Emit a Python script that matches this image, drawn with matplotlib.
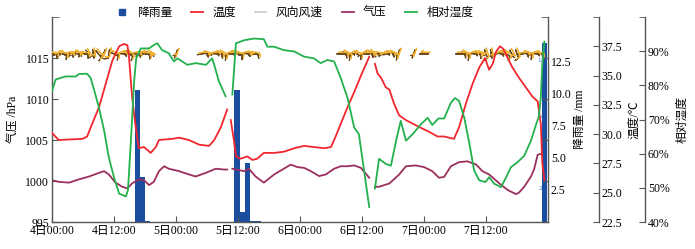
import numpy as np
import matplotlib.pyplot as plt
from matplotlib.lines import Line2D
from matplotlib.ticker import FuncFormatter

plt.rcParams['font.family'] = ['Liberation Serif', 'Noto Sans CJK SC']
plt.rcParams['axes.unicode_minus'] = False

nan = np.nan

# all times are hours after 4日00:00
tick_hours = [0, 12, 24, 36, 48, 60, 72, 84]
tick_labels = ['4日00:00', '4日12:00', '5日00:00', '5日12:00',
               '6日00:00', '6日12:00', '7日00:00', '7日12:00']

# rain (mm), bars start at these hours
rain_hours = [16, 17, 18, 35.3, 36.3, 37.3, 38.4, 39.4, 94.9]
rain_mm = [10.3, 3.5, 0.1, 10.3, 0.8, 4.6, 0.05, 0.05, 14.0]

# temperature (C)
temp_hours = [0, 1.3, 5.9, 6.8, 7.8, 9.1, 10.4, 11.7, 13.0, 13.9, 14.6, 14.9, 15.5, 16.2,
              16.8, 17.8, 19.1, 20.1, 20.7, 23.3, 24.6, 26.5, 28.5, 30.4, 31.4, 32.7, 33.9, 34.2,
              34.6, 35.2, 35.6, 36.5, 37.8, 38.8, 39.7, 41.0, 43.0, 44.9, 46.9, 48.8, 50.7, 52.7,
              54.0, 54.9, 55.9, 57.2, 58.5, 59.8, 61.1, 61.4, 62.0,
              62.5, 63.0, 63.7, 64.6, 65.3, 66.2, 67.2, 68.5, 69.8, 71.1, 73.0, 74.6, 75.9, 77.8,
              78.8, 80.1, 81.4, 82.7, 83.8, 84.6, 85.3, 85.9, 86.7, 87.3, 88.2, 89.1, 90.4, 91.7,
              93.0, 94.0, 94.6, 94.9, 95.3]
temp_c = [30.1, 29.5, 29.6, 29.8, 30.9, 32.3, 34.3, 36.3, 37.5, 37.7, 37.6, 36.6, 33.2, 30.6,
          28.8, 28.9, 28.4, 28.9, 29.5, 29.6, 29.7, 29.5, 29.1, 29.0, 29.5, 30.6, 32.1, nan,
          31.2, 29.5, 28.1, 27.9, 28.1, 27.8, 27.9, 28.4, 28.4, 28.5, 28.8, 29.0, 28.9, 28.8,
          28.9, 29.8, 30.9, 32.3, 33.6, 35.0, 36.3, 36.6, nan,
          36.0, 35.2, 34.8, 34.0, 33.8, 32.6, 31.6, 31.2, 30.9, 30.6, 30.2, 29.8, 29.8, 29.6,
          30.6, 32.6, 34.3, 35.7, 36.5, 35.5, 36.0, 37.0, 37.5, 37.3, 36.5, 35.7, 34.8, 34.0,
          33.2, 32.8, 30.9, 27.5, 26.1]

# pressure (hPa)
pres_hours = [0, 1.3, 3.3, 5.2, 7.2, 9.1, 10.1, 11.0, 12.3, 13.6, 14.6, 15.5, 16.8, 17.8,
              18.8, 19.7, 20.7, 21.7, 22.6, 24.6, 26.5, 27.8, 29.8, 31.7, 33.3, 33.9, 34.2,
              34.9, 37.2, 38.1, 39.4, 41.0, 43.0, 44.6, 46.2, 47.5, 48.8, 50.1, 51.7, 53.0,
              54.6, 55.9, 57.2, 58.5, 59.8, 61.4, 62.0,
              62.5, 63.3, 65.3, 67.2, 68.5, 70.4, 72.0, 73.6, 74.9, 75.9, 77.2, 78.8, 80.4,
              82.1, 83.3, 84.6, 86.6, 88.2, 89.8, 90.4, 91.4, 92.7, 93.3, 94.0, 94.6]
pres_hpa = [1000.1, 999.9, 999.8, 1000.2, 1000.55, 1001.0, 1001.2, 1000.8, 999.8, 999.3,
            999.1, 999.7, 1000.2, 1000.1, 999.5, 999.9, 1001.2, 1001.8, 1001.5, 1001.2,
            1000.8, 1000.55, 1001.0, 1001.5, 1001.4, 1001.4, nan,
            1001.5, 1001.2, 1001.5, 1000.55, 999.8, 1000.8, 1001.4, 1002.0, 1001.7, 1001.6,
            1001.2, 1000.6, 1000.8, 1001.5, 1001.8, 1001.8, 1001.9, 1001.6, 1000.4, nan,
            999.3, 999.3, 999.7, 1000.8, 1001.8, 1001.9, 1001.7, 1001.2, 1000.4, 1000.5,
            1001.8, 1002.3, 1002.4, 1002.0, 1001.2, 1000.8, 999.7, 998.9, 998.4, 998.6,
            999.3, 1000.55, 1001.4, 1003.2, 1003.3]

# relative humidity (%)
rh_hours = [0, 0.7, 2.6, 4.6, 5.2, 6.8, 7.5, 8.4, 9.1, 10.1, 11.0, 12.0, 13.0, 14.3, 14.7,
            15.2, 15.9, 16.3, 17.2, 18.8, 19.7, 20.4, 21.3, 22.6, 23.6, 24.3, 25.2, 26.2,
            27.8, 29.8, 31.0, 31.4, 32.3, 33.6, 34.2,
            34.9, 35.6, 37.2, 39.1, 41.0, 41.7, 43.0, 44.9, 46.9, 48.8, 50.7, 52.0, 53.3,
            54.6, 55.9, 57.2, 58.5, 59.4, 60.4, 61.4, 62.0,
            62.5, 63.3, 64.6, 65.6, 66.6, 67.5, 68.5, 69.8, 71.4, 72.7, 73.6, 74.8, 75.9,
            77.2, 78.0, 78.8, 79.8, 80.8, 81.7, 82.7, 83.9, 84.6, 85.6, 86.9, 87.9, 88.8,
            90.1, 91.4, 92.7, 93.7, 94.2, 94.6, 94.9, 95.3]
rh_pct = [78.3, 81.7, 82.6, 82.6, 83.3, 83.4, 82.1, 77.3, 73.4, 66.7, 58.9, 53.1, 48.3, 47.5,
          49.3, 61.8, 81.2, 87.9, 90.8, 90.8, 91.8, 92.3, 90.3, 89.4, 87.0, 87.9, 87.0, 86.0,
          86.5, 86.0, 87.9, 86.0, 81.2, 76.8, nan,
          77.3, 92.3, 93.2, 93.7, 93.5, 91.3, 91.3, 90.3, 89.9, 88.4, 87.9, 86.5, 87.4,
          87.0, 82.1, 76.3, 67.6, 65.7, 55.1, 44.4, nan,
          49.8, 58.5, 57.0, 56.5, 63.8, 69.6, 63.8, 65.7, 68.6, 70.5, 68.4, 70.3, 70.3,
          74.9, 76.3, 75.4, 70.5, 62.8, 55.1, 52.2, 51.7, 53.1, 51.2, 50.2, 53.1, 56.0,
          57.5, 59.4, 63.8, 68.6, 70.7, 76.3, 86.0, 92.8]

# wind: direction (deg) and speed (m/s), only hours with data
wind_hours = (list(range(0, 20)) + [24] + list(range(29, 40)) + list(range(56, 68))
              + [70, 72] + list(range(79, 95)))
wind_dir = [95, 70, 110, 85, 60, 120, 95, 150, 170, 140, 200, 190, 115, 70, 95, 130, 85, 60, 100, 120,
            200,
            80, 110, 70, 95, 120, 65, 85, 110, 75, 100, 95,
            90, 120, 70, 110, 60, 85, 130, 100, 65, 80, 115, 200,
            200, 270,
            90, 120, 70, 95, 110, 160, 170, 65, 100, 130, 150, 160, 80, 110, 70, 95]
wind_spd = [3, 2, 4, 4, 2, 3, 4, 2, 3, 4, 2, 3, 4, 3, 2, 4, 3, 2, 4, 3,
            2,
            4, 2, 3, 4, 4, 3, 2, 4, 3, 2, 4,
            3, 4, 2, 4, 3, 4, 2, 3, 4, 4, 3, 2,
            2, 2,
            3, 4, 4, 3, 2, 4, 3, 4, 3, 4, 2, 3, 4, 4, 3, 4]

c_rain = '#1c4ea0'
c_temp = '#f2262e'
c_pres = '#9b2f5e'
c_rh = '#22b14c'
c_wind = '#c9d0d6'
c_axis = '#555555'

fig = plt.figure(figsize=(6.95, 2.49), dpi=100)
fig.patch.set_facecolor('white')
ax_p = fig.add_axes([0.0748, 0.1084, 0.7137, 0.8233])
ax_r = ax_p.twinx()
ax_t = ax_p.twinx()
ax_h = ax_p.twinx()
ax_r.set_zorder(-1)
for a in (ax_p, ax_r, ax_t, ax_h):
    a.patch.set_visible(False)
    a.spines['top'].set_visible(False)
for a in (ax_r, ax_t, ax_h):
    a.spines['left'].set_visible(False)
    a.spines['bottom'].set_visible(False)
ax_p.spines['right'].set_visible(False)
ax_t.spines['right'].set_position(('axes', 1.1028))
ax_h.spines['right'].set_position(('axes', 1.1956))
for a in (ax_p, ax_r, ax_t, ax_h):
    for s in a.spines.values():
        s.set_color(c_axis)
        s.set_linewidth(1.0)

# rain bars
ax_r.bar(rain_hours, rain_mm, width=1.0, align='edge', color=c_rain, linewidth=0)
ax_r.set_ylim(0, 16)
ax_r.set_yticks([2.5, 5.0, 7.5, 10.0, 12.5])
ax_r.set_yticks([16], minor=True)
ax_r.yaxis.set_major_formatter(FuncFormatter(lambda v, p: f'{v:.1f}'))
ax_r.tick_params(axis='y', which='major', length=0, pad=2, labelsize=8.5)
ax_r.tick_params(axis='y', which='minor', direction='in', length=5, color=c_axis)
ax_r.set_ylabel('降雨量 /mm', fontsize=8.5, labelpad=2)
for yv, s in [(12.6, '12'), (10.7, '1'), (8.1, '7'), (2.6, '2')]:
    ax_r.text(94.6, yv, s, color='#3a78d8', fontsize=5, ha='center', va='center')

# pressure + wind
ax_p.plot(pres_hours, pres_hpa, color=c_pres, lw=1.3)
wr = np.radians(wind_dir)
u = -np.array(wind_spd) * np.sin(wr)
v = -np.array(wind_spd) * np.cos(wr)
wy = np.full(len(wind_hours), 1015.5)
inc = dict(half=2, full=4, flag=20)
sz = dict(spacing=0.2, height=0.45, width=0.25)
ax_p.barbs(wind_hours, wy, u, v, length=3.6, barbcolor='#6b4b22', flagcolor='#6b4b22',
           linewidth=0.9, barb_increments=inc, sizes=sz, pivot='middle', zorder=3)
ax_p.barbs(np.array(wind_hours) + 0.3, wy + 0.2, u, v, length=3.6, barbcolor='#f0b030',
           flagcolor='#f0b030', linewidth=0.8, barb_increments=inc, sizes=sz,
           pivot='middle', zorder=3)
ax_p.set_xlim(0, 96)
ax_p.set_ylim(995, 1020)
ax_p.set_yticks([995, 1000, 1005, 1010, 1015])
ax_p.set_yticks([1020], minor=True)
ax_p.set_xticks(tick_hours)
ax_p.set_xticklabels(tick_labels)
ax_p.tick_params(axis='both', which='both', direction='in', length=4, labelsize=8.5,
                 color=c_axis, pad=2)
ax_p.tick_params(axis='y', right=True, which='major')
ax_p.tick_params(axis='y', which='minor', length=5)
ax_p.set_ylabel('气压 /hPa', fontsize=8.5, labelpad=4)

# temperature
ax_t.plot(temp_hours, temp_c, color=c_temp, lw=1.3)
ax_t.set_ylim(22.5, 40)
ax_t.set_yticks([22.5, 25.0, 27.5, 30.0, 32.5, 35.0, 37.5])
ax_t.set_yticks([40], minor=True)
ax_t.yaxis.set_major_formatter(FuncFormatter(lambda v, p: f'{v:.1f}'))
ax_t.tick_params(axis='y', which='both', direction='in', length=4, labelsize=8.5,
                 color=c_axis, pad=2)
ax_t.set_ylabel('温度/℃', fontsize=8.5, labelpad=4)

# humidity
ax_h.plot(rh_hours, rh_pct, color=c_rh, lw=1.3)
ax_h.set_ylim(40, 100)
ax_h.set_yticks([40, 50, 60, 70, 80, 90])
ax_h.set_yticks([100], minor=True)
ax_h.yaxis.set_major_formatter(FuncFormatter(lambda v, p: f'{v:.0f}%'))
ax_h.tick_params(axis='y', which='both', direction='in', length=4, labelsize=8.5,
                 color=c_axis, pad=2)
ax_h.set_ylabel('相对湿度', fontsize=8.5, labelpad=5)

handles = [Line2D([], [], marker='s', ls='none', color=c_rain, markersize=5),
           Line2D([], [], color=c_temp, lw=1.3),
           Line2D([], [], color=c_wind, lw=1.3),
           Line2D([], [], color=c_pres, lw=1.3),
           Line2D([], [], color=c_rh, lw=1.3)]
labels = ['降雨量', '温度', '风向风速', '气压', '相对湿度']
fig.legend(handles, labels, loc='center', bbox_to_anchor=(0.424, 0.948), ncol=5,
           frameon=False, fontsize=8.5, handlelength=1.0, handletextpad=0.8,
           columnspacing=1.6, borderpad=0)

fig.savefig('out.png', dpi=100, facecolor='white')
